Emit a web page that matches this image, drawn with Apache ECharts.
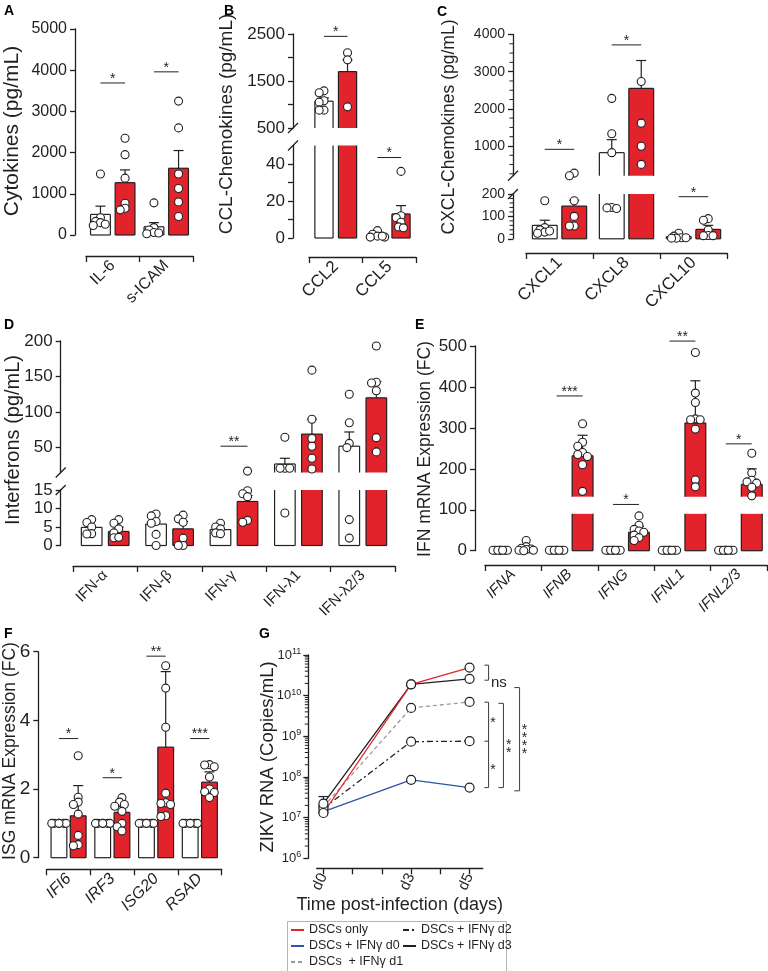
<!DOCTYPE html>
<html>
<head>
<meta charset="utf-8">
<script src="https://cdn.jsdelivr.net/npm/echarts@6/dist/echarts.min.js"></script>
<style>html,body{margin:0;background:#fff}#main{width:768px;height:971px}</style>
</head>
<body>
<div id="main"></div>
<script>
// ---- A: cytokines
const catA = ['IL-6', 's-ICAM'];
const mockA = [500, 200], mockTopA = [700, 300];
const mockPtsA = [[1480, 420, 330, 300, 260, 230], [780, 180, 120, 60, 30, 50]];
const zikvA = [1270, 1620], zikvTopA = [1580, 2050];
const zikvPtsA = [[2350, 1950, 1380, 770, 650, 610], [3250, 2600, 1480, 1130, 800, 450]];
const sigA = [[3690, '*'], [3960, '*']];
const ticksA = [0, 1000, 2000, 3000, 4000, 5000];

// ---- B: CCL chemokines (broken axis)
const catB = ['CCL2', 'CCL5'];
const mockB = [1070, 1.5], mockTopB = [1140, 2.2];
const mockPtsB = [[1290, 1250, 1080, 1050, 880, 880], [4, 2, 1, 0.5, 0.5, 1]];
const zikvB = [1700, 13], zikvTopB = [1950, 17.5];
const zikvPtsB = [[2100, 1950, 950], [36, 12, 11, 8.5, 6, 5.5]];
const sigB = [[2450, '*'], [43.5, '*']];
const upTicksB = [500, 1000, 1500, 2000, 2500], upLabelsB = [500, 1500, 2500];
const lowTicksB = [0, 10, 20, 30, 40], lowLabelsB = [0, 20, 40];

// ---- C: CXCL chemokines (broken axis)
const catC = ['CXCL1', 'CXCL8', 'CXCL10'];
const mockC = [60, 820, 10], mockTopC = [83, 1170, 12];
const mockPtsC = [[170, 50, 40, 30, 25, 35], [2280, 1330, 820, 140, 135, 138], [25, 12, 5, 3, 3, 5]];
const zikvC = [146, 2550, 42], zikvTopC = [172, 3300, 60];
const zikvPtsC = [[270, 200, 170, 100, 57, 57], [2735, 1614, 992, 504], [90, 83, 39, 15, 14, 14]];
const sigC = [[910, '*'], [3720, '*'], [188, '*']];
const upTicksC = [1000, 2000, 3000, 4000];
const upMinorC = [250, 500, 750, 1250, 1500, 1750, 2250, 2500, 2750, 3250, 3500, 3750];
const lowTicksC = [0, 100, 200];
const lowMinorC = [20, 40, 60, 80, 120, 140, 160, 180];

// ---- D: interferons (broken axis)
const catD = ['IFN-α', 'IFN-β', 'IFN-γ', 'IFN-λ1', 'IFN-λ2/3'];
const mockD = [4.9, 5.8, 4.3, 27, 52], mockTopD = [4.9, 5.8, 4.3, 35, 72];
const mockPtsD = [[7, 6.2, 5, 3.2, 3.1], [8.5, 8, 6.5, 6, 3, 0], [6, 5, 4.5, 3.4, 3.2],
  [64.6, 21, 21, 21, 8.8], [125, 85, 56, 50, 7, 2]];
const zikvD = [3.8, 4.5, 11.9, 69, 120], zikvTopD = [5, 6.5, 13.5, 90, 143];
const zikvPtsD = [[7, 6, 4.5, 3.4, 2.1, 2.2], [8.2, 7.2, 6.3, 2, 0, 0], [17, 14.8, 14, 13.2, 6.8, 6.3],
  [159, 90, 63, 52, 35, 20], [193, 142, 141, 130, 64, 44]];
const sigD = [null, null, [52, '**'], null, null];
const upTicksD = [50, 100, 150, 200], lowTicksD = [0, 5, 10, 15];

// ---- E: IFN mRNA
const catE = ['IFNA', 'IFNB', 'IFNG', 'IFNL1', 'IFNL2/3'];
const mockE = [1, 1, 1, 1, 1], mockTopE = [1, 1, 1, 1, 1];
const mockPtsE = [[1, 1, 1, 1, 1, 1, 1, 1], [1, 1, 1, 1, 1, 1, 1, 1], [1, 1, 1, 1, 1, 1, 1, 1],
  [1, 1, 1, 1, 1, 1, 1, 1], [1, 1, 1, 1, 1, 1, 1, 1]];
const zikvE = [5, 232, 45, 312, 162], zikvTopE = [5, 282, 60, 415, 200];
const zikvPtsE = [[25, 10, 6, 4, 3, 1, 1, 0], [310, 265, 255, 240, 235, 230, 210, 145],
  [85, 62, 52, 48, 45, 38, 32, 25], [484, 385, 362, 322, 320, 320, 297, 173, 156],
  [238, 190, 172, 168, 165, 155, 134]];
const sigE = [null, [378, '***'], [113, '*'], [512, '**'], [261, '*']];
const ticksE = [0, 100, 200, 300, 400, 500];

// ---- F: ISG mRNA
const catF = ['IFI6', 'IRF3', 'ISG20', 'RSAD'];
const mockF = [1, 1, 1, 1], mockTopF = [1, 1, 1, 1];
const mockPtsF = [[1, 1, 1, 1, 1, 1], [1, 1, 1, 1, 1, 1], [1, 1, 1, 1, 1, 1], [1, 1, 1, 1, 1, 1]];
const zikvF = [1.22, 1.32, 3.22, 2.2], zikvTopF = [2.1, 1.5, 5.42, 2.5];
const zikvPtsF = [[2.97, 1.76, 1.62, 1.55, 1.27, 0.65, 0.38, 0.35], [1.75, 1.62, 1.55, 1.5, 1.35, 1.0, 0.9, 0.78],
  [5.59, 4.94, 3.8, 1.88, 1.6, 1.58, 1.55, 1.22, 1.2], [2.71, 2.65, 2.7, 2.35, 2.0, 1.92, 1.9, 1.75]];
const sigF = [[3.47, '*'], [2.33, '*'], [5.87, '**'], [3.47, '***']];
const ticksF = [0, 2, 4, 6];

// ---- G: ZIKV RNA over time
const gDays = [0, 3, 5];
const gOnly = [1.3e7, 1.9e10, 4.9e10];
const gD0 = [1.4e7, 8.5e7, 5.5e7];
const gD1 = [1.85e7, 5e9, 7e9];
const gD2 = [1.7e7, 7.4e8, 7.6e8];
const gD3 = [2.2e7, 1.9e10, 2.6e10];
const gD3Top = 3.3e7;
const gTickDays = [0, 1, 2, 3, 4, 5];
const gBrX = [5.65, 5.65, 6.16, 6.71];
const gBrX0 = [5.51, 5.51, 5.99, 6.53];
const gBrY = [[10.75, 10.38], [9.84, 8.88, 7.74], [9.81, 7.74], [10.2, 7.66]];
const gSigText = ['ns', '*', '*', '*\n*', '*\n*\n*\n*'];
const gSigX = [5.73, 5.8, 5.8, 6.34, 6.88];
const gSigY = [10.31, 9.4, 8.25, 8.76, 8.93];

const INK = '#231f20';
const RED = '#e3232b';
const BLUE = '#2d55a5';
const FONT = 'Liberation Sans, Arial, Helvetica, sans-serif';

var grids = [], xAxes = [], yAxes = [], series = [], graphics = [];
var AXLINE = {color: INK, width: 1.3};
var plain = function (v) { return String(v); };

function segOf(segs, v) {
  for (var i = 0; i < segs.length; i++) if (v >= segs[i].min) return i;
  return segs.length - 1;
}
function toPx(s, v) { return s.bottom - (v - s.min) / (s.max - s.min) * (s.bottom - s.top); }

// small unlabeled ticks on the left of an axis line
function minorTickMarks(axisX, ys) {
  ys.forEach(function (y) {
    graphics.push({type: 'line', shape: {x1: axisX - 3.5, y1: y, x2: axisX, y2: y},
      style: {stroke: INK, lineWidth: 1}});
  });
}

// simple beeswarm so points don't sit exactly on top of each other
function swarm(vals, segs, unitPx, diam) {
  var placed = [], offs = [];
  var order = vals.map(function (v, i) { return i; }).sort(function (a, b) { return vals[b] - vals[a]; });
  order.forEach(function (i) {
    var y = toPx(segs[segOf(segs, vals[i])], vals[i]);
    var best = 0, bestCost = Infinity;
    for (var k = 0; k < 7; k++) {
      var dx = Math.ceil(k / 2) * (k % 2 ? -1 : 1) * diam * 0.3;
      var cost = Math.abs(dx) * 0.01;
      placed.forEach(function (q) {
        var d = Math.hypot(q[0] - dx, q[1] - y);
        if (d < diam * 0.6) cost += diam * 0.6 - d;
      });
      if (cost < bestCost) { bestCost = cost; best = dx; }
    }
    placed.push([best, y]);
    offs[i] = best / unitPx;
  });
  return offs;
}

function makeBar(s, L) {
  return function (params, api) {
    var x = api.value(0), v = api.value(1), kind = api.value(2);
    var w = L.bw / 2;
    var pieces = L.gap && v > L.gap[1] ? [[0, L.gap[0]], [L.gap[1], v]] : [[0, v]];
    var kids = [];
    var st = {stroke: INK, lineWidth: 1.2};
    pieces.forEach(function (pc) {
      var lo = Math.max(pc[0], s.min), hi = Math.min(pc[1], s.max);
      if (hi <= lo) return;
      var a = api.coord([x - w, lo]), b = api.coord([x + w, hi]);
      kids.push({type: 'rect', shape: {x: a[0], y: b[1], width: b[0] - a[0], height: a[1] - b[1]},
        style: {fill: kind ? RED : '#fff'}});
      kids.push({type: 'line', shape: {x1: a[0], y1: a[1], x2: a[0], y2: b[1]}, style: st});
      kids.push({type: 'line', shape: {x1: b[0], y1: a[1], x2: b[0], y2: b[1]}, style: st});
      if (hi === v) kids.push({type: 'line', shape: {x1: a[0], y1: b[1], x2: b[0], y2: b[1]}, style: st});
      if (lo === 0) kids.push({type: 'line', shape: {x1: a[0], y1: a[1], x2: b[0], y2: a[1]}, style: st});
    });
    return {type: 'group', children: kids};
  };
}

function makeErr(s) {
  return function (params, api) {
    var x = api.value(0), m = api.value(1), t = api.value(3);
    var kids = [];
    var lo = Math.max(m, s.min), hi = Math.min(t, s.max);
    if (t > m && hi > lo) {
      var a = api.coord([x, lo]), b = api.coord([x, hi]);
      var st = {stroke: INK, lineWidth: 1.2};
      kids.push({type: 'line', shape: {x1: a[0], y1: a[1], x2: b[0], y2: b[1]}, style: st});
      if (t <= s.max) kids.push({type: 'line', shape: {x1: b[0] - 5, y1: b[1], x2: b[0] + 5, y2: b[1]}, style: st});
    }
    return {type: 'group', children: kids};
  };
}

function makeSig(labels, off) {
  return function (params, api) {
    var c = api.value(0), y = api.value(1);
    var a = api.coord([c - off, y]), b = api.coord([c + off, y]);
    return {type: 'group', children: [
      {type: 'line', shape: {x1: a[0], y1: a[1], x2: b[0], y2: b[1]}, style: {stroke: INK, lineWidth: 1}},
      {type: 'text', x: (a[0] + b[0]) / 2, y: a[1] + 3,
        style: {text: labels[params.dataIndex], textAlign: 'center', textVerticalAlign: 'bottom',
          fontSize: 14, fontFamily: FONT, fill: INK}}
    ]};
  };
}

function addPanel(L, D) {
  var n = D.cats.length, unit = (L.right - L.left) / n, diam = 8;
  var mockOff = D.mockPts.map(function (p) { return swarm(p, L.segs, unit, diam); });
  var zikvOff = D.zikvPts.map(function (p) { return swarm(p, L.segs, unit, diam); });
  L.segs.forEach(function (s, si) {
    var gi = grids.length, xi = xAxes.length, yi = yAxes.length;
    var last = si === L.segs.length - 1;
    grids.push({left: L.left, top: s.top, width: L.right - L.left, height: s.bottom - s.top});
    xAxes.push({gridIndex: gi, type: 'value', min: 0, max: n, show: false});
    if (last) xAxes.push({
      gridIndex: gi, type: 'category', data: D.cats, position: 'bottom', offset: L.catY - s.bottom,
      boundaryGap: true,
      axisLine: {show: true, onZero: false, lineStyle: AXLINE},
      axisTick: {show: true, length: 6, lineStyle: AXLINE},
      axisLabel: {rotate: 45, interval: 0, fontSize: L.catFont, color: INK, margin: 7,
        fontStyle: L.italic ? 'italic' : 'normal'}
    });
    yAxes.push({
      gridIndex: gi, type: 'value', position: 'left', min: s.min, max: s.max, offset: L.left - L.axisX,
      axisLine: {show: true, onZero: false, lineStyle: AXLINE},
      axisTick: {show: true, length: 5, customValues: s.ticks, lineStyle: AXLINE},
      axisLabel: {customValues: s.labels || s.ticks, formatter: plain, fontSize: L.tickFont, color: INK, margin: 8},
      splitLine: {show: false}
    });
    if (s.minor) minorTickMarks(L.axisX, s.minor.map(function (v) { return toPx(s, v); }));
    var barData = [];
    D.cats.forEach(function (c, i) {
      barData.push([i + 0.5 - L.off, D.mock[i], 0, D.mockTop[i]]);
      barData.push([i + 0.5 + L.off, D.zikv[i], 1, D.zikvTop[i]]);
    });
    series.push({type: 'custom', xAxisIndex: xi, yAxisIndex: yi, z: 2, silent: true,
      data: barData, renderItem: makeBar(s, L)});
    series.push({type: 'custom', xAxisIndex: xi, yAxisIndex: yi, z: 3, silent: true,
      data: barData, renderItem: makeErr(s)});
    var pts = [];
    D.mockPts.forEach(function (arr, i) {
      arr.forEach(function (v, j) { if (segOf(L.segs, v) === si) pts.push([i + 0.5 - L.off + mockOff[i][j], v]); });
    });
    D.zikvPts.forEach(function (arr, i) {
      arr.forEach(function (v, j) { if (segOf(L.segs, v) === si) pts.push([i + 0.5 + L.off + zikvOff[i][j], v]); });
    });
    series.push({type: 'scatter', xAxisIndex: xi, yAxisIndex: yi, z: 5, clip: false, silent: true,
      symbol: 'circle', symbolSize: diam,
      itemStyle: {color: '#fff', opacity: 1, borderColor: INK, borderWidth: 1.1}, data: pts});
    var sigPos = [], sigTxt = [];
    D.sig.forEach(function (sg, i) {
      if (sg && segOf(L.segs, sg[0]) === si) { sigPos.push([i + 0.5, sg[0]]); sigTxt.push(sg[1]); }
    });
    if (sigPos.length) series.push({type: 'custom', xAxisIndex: xi, yAxisIndex: yi, z: 6, silent: true,
      data: sigPos, renderItem: makeSig(sigTxt, L.off)});
  });
  // axis break marks
  for (var k = 0; k + 1 < L.segs.length; k++) {
    [L.segs[k].bottom, L.segs[k + 1].top].forEach(function (y) {
      graphics.push({type: 'line', shape: {x1: L.axisX - 5, y1: y + 5, x2: L.axisX + 5, y2: y - 5},
        style: {stroke: INK, lineWidth: 1.3}});
    });
  }
}

addPanel({left: 86, right: 193, axisX: 75, catY: 256, off: 0.23, bw: 0.37, tickFont: 16, catFont: 16,
  segs: [{top: 29, bottom: 235, min: 0, max: 5000, ticks: ticksA}]},
  {cats: catA, mock: mockA, mockTop: mockTopA, mockPts: mockPtsA, zikv: zikvA, zikvTop: zikvTopA, zikvPts: zikvPtsA, sig: sigA});

addPanel({left: 309, right: 416, axisX: 293, catY: 257, off: 0.22, bw: 0.34, tickFont: 17, catFont: 17,
  segs: [{top: 34, bottom: 128, min: 500, max: 2500, ticks: upTicksB, labels: upLabelsB},
         {top: 145.5, bottom: 238, min: 0, max: 50, ticks: lowTicksB, labels: lowLabelsB}]},
  {cats: catB, mock: mockB, mockTop: mockTopB, mockPts: mockPtsB, zikv: zikvB, zikvTop: zikvTopB, zikvPts: zikvPtsB, sig: sigB});

addPanel({left: 526, right: 727, axisX: 513, catY: 253, off: 0.22, bw: 0.37, tickFont: 14, catFont: 17,
  segs: [{top: 34.5, bottom: 175.7, min: 200, max: 4000, ticks: upTicksC, minor: upMinorC},
         {top: 194, bottom: 238.8, min: 0, max: 200, ticks: lowTicksC, minor: lowMinorC}]},
  {cats: catC, mock: mockC, mockTop: mockTopC, mockPts: mockPtsC, zikv: zikvC, zikvTop: zikvTopC, zikvPts: zikvPtsC, sig: sigC});

addPanel({left: 73, right: 395, axisX: 60.7, catY: 566, off: 0.21, bw: 0.32, tickFont: 17, catFont: 15,
  segs: [{top: 341, bottom: 472.5, min: 15, max: 200, ticks: upTicksD},
         {top: 490, bottom: 545.5, min: 0, max: 15, ticks: lowTicksD}]},
  {cats: catD, mock: mockD, mockTop: mockTopD, mockPts: mockPtsD, zikv: zikvD, zikvTop: zikvTopD, zikvPts: zikvPtsD, sig: sigD});

addPanel({left: 485, right: 767, axisX: 475, catY: 565, off: 0.23, bw: 0.37, tickFont: 17, catFont: 15,
  italic: true, gap: [90, 132],
  segs: [{top: 346, bottom: 550.7, min: 0, max: 500, ticks: ticksE}]},
  {cats: catE, mock: mockE, mockTop: mockTopE, mockPts: mockPtsE, zikv: zikvE, zikvTop: zikvTopE, zikvPts: zikvPtsE, sig: sigE});

addPanel({left: 46.7, right: 221.7, axisX: 38.3, catY: 869.3, off: 0.22, bw: 0.36, tickFont: 19, catFont: 16,
  italic: true,
  segs: [{top: 651.7, bottom: 857.7, min: 0, max: 6, ticks: ticksF}]},
  {cats: catF, mock: mockF, mockTop: mockTopF, mockPts: mockPtsF, zikv: zikvF, zikvTop: zikvTopF, zikvPts: zikvPtsF, sig: sigF});

// ---- G panel: log-scale time course
(function () {
  var gi = grids.length, xi = xAxes.length, yi = yAxes.length;
  var G = {left: 316.7, top: 655, width: 166, height: 203.3, axisX: 308.3};
  grids.push({left: G.left, top: G.top, width: G.width, height: G.height});
  xAxes.push({
    gridIndex: gi, type: 'value', min: -0.23, max: 5.45, offset: 10,
    axisLine: {show: true, onZero: false, lineStyle: AXLINE},
    axisTick: {show: true, length: 6, customValues: gTickDays, lineStyle: AXLINE},
    axisLabel: {customValues: gDays, formatter: function (v) { return 'd' + v; }, rotate: 65,
      fontSize: 15, color: INK, margin: 6},
    splitLine: {show: false},
    name: 'Time post-infection (days)', nameLocation: 'middle', nameGap: 26,
    nameTextStyle: {fontSize: 18, color: INK}
  });
  yAxes.push({
    gridIndex: gi, type: 'log', position: 'left', logBase: 10, min: 1e6, max: 1e11, offset: G.left - G.axisX,
    axisLine: {show: true, onZero: false, lineStyle: AXLINE},
    axisTick: {show: true, length: 5, lineStyle: AXLINE},
    axisLabel: {color: INK, fontSize: 13, margin: 7, lineHeight: 16,
      formatter: function (v) { return '10{e|' + Math.round(Math.log10(v)) + '}'; },
      rich: {e: {fontSize: 9, lineHeight: 10, verticalAlign: 'top', color: INK}}},
    splitLine: {show: false}
  });
  // log minor ticks (2..9 within each decade)
  var minorY = [];
  for (var k = 6; k < 11; k++) for (var m = 2; m < 10; m++) {
    minorY.push(G.top + G.height - (Math.log10(m) + k - 6) / 5 * G.height);
  }
  minorTickMarks(G.axisX, minorY);
  var lines = [
    ['DSCs + IFNγ d0', gD0, BLUE, 'solid'],
    ['DSCs  + IFNγ d1', gD1, '#9a9a9a', [4, 3]],
    ['DSCs + IFNγ d2', gD2, INK, [6, 3, 2, 3]],
    ['DSCs + IFNγ d3', gD3, INK, 'solid'],
    ['DSCs only', gOnly, RED, 'solid']
  ];
  lines.forEach(function (l) {
    series.push({
      name: l[0], type: 'line', xAxisIndex: xi, yAxisIndex: yi, z: 4, clip: false,
      data: gDays.map(function (d, i) { return [d, l[1][i]]; }),
      symbol: 'circle', symbolSize: 9,
      itemStyle: {color: '#fff', borderColor: INK, borderWidth: 1.2},
      lineStyle: {color: l[2], width: 1.3, type: l[3]}
    });
  });
  series.push({type: 'custom', xAxisIndex: xi, yAxisIndex: yi, z: 3, silent: true,
    data: [[gDays[0], gD3[0], gD3Top]],
    renderItem: function (params, api) {
      var a = api.coord([api.value(0), api.value(1)]), b = api.coord([api.value(0), api.value(2)]);
      var st = {stroke: INK, lineWidth: 1.2};
      return {type: 'group', children: [
        {type: 'line', shape: {x1: a[0], y1: a[1], x2: b[0], y2: b[1]}, style: st},
        {type: 'line', shape: {x1: b[0] - 5, y1: b[1], x2: b[0] + 5, y2: b[1]}, style: st}
      ]};
    }});
  // significance brackets
  series.push({type: 'custom', xAxisIndex: xi, yAxisIndex: yi, z: 3, silent: true,
    data: gBrX.map(function (x, i) { return [x, Math.pow(10, gBrY[i][0])]; }),
    renderItem: function (params, api) {
      var i = params.dataIndex, ys = gBrY[i];
      var st = {stroke: '#4a4a4a', lineWidth: 1.1};
      var top = api.coord([gBrX[i], Math.pow(10, ys[0])]);
      var bot = api.coord([gBrX[i], Math.pow(10, ys[ys.length - 1])]);
      var kids = [{type: 'line', shape: {x1: top[0], y1: top[1], x2: bot[0], y2: bot[1]}, style: st}];
      ys.forEach(function (y) {
        var a = api.coord([gBrX0[i], Math.pow(10, y)]), b = api.coord([gBrX[i], Math.pow(10, y)]);
        kids.push({type: 'line', shape: {x1: a[0], y1: a[1], x2: b[0], y2: b[1]}, style: st});
      });
      return {type: 'group', children: kids};
    }});
  series.push({type: 'custom', xAxisIndex: xi, yAxisIndex: yi, z: 3, silent: true,
    data: gSigX.map(function (x, i) { return [x, Math.pow(10, gSigY[i])]; }),
    renderItem: function (params, api) {
      var i = params.dataIndex, p = api.coord([api.value(0), api.value(1)]);
      var ns = gSigText[i] === 'ns';
      return {type: 'text', x: p[0], y: ns ? p[1] : p[1] + 3,
        style: {text: gSigText[i], textAlign: ns ? 'left' : 'center', textVerticalAlign: 'middle',
          fontSize: ns ? 15 : 14, lineHeight: 8, fontFamily: FONT, fill: INK}};
    }});
})();

// axis titles and panel letters
const yNames = [
  ['Cytokines (pg/mL)', 12, 131, 21], ['CCL-Chemokines (pg/mL)', 227, 124, 19],
  ['CXCL-Chemokines (pg/mL)', 449, 127, 17.5], ['Interferons (pg/mL)', 13.5, 440, 20],
  ['IFN mRNA Expression (FC)', 425, 449, 17.5], ['ISG mRNA Expression (FC)', 10, 751, 17.5],
  ['ZIKV RNA (Copies/mL)', 268, 757, 18.5]
];
yNames.forEach(function (t) {
  graphics.push({type: 'text', x: t[1], y: t[2], rotation: Math.PI / 2,
    style: {text: t[0], textAlign: 'center', textVerticalAlign: 'middle', fontSize: t[3], fontFamily: FONT, fill: INK}});
});
const letters = [['A', 4, 4], ['B', 224, 4], ['C', 437, 5], ['D', 4, 318], ['E', 415, 318], ['F', 4, 627], ['G', 259, 627]];
letters.forEach(function (t) {
  graphics.push({type: 'text', x: t[1], y: t[2],
    style: {text: t[0], fontSize: 14, fontWeight: 'bold', fontFamily: FONT, fill: '#000'}});
});
graphics.push({type: 'rect', shape: {x: 287.5, y: 921.5, width: 219, height: 60},
  style: {fill: 'none', stroke: '#b5b5b5', lineWidth: 1}});

var legendBase = {orient: 'vertical', itemGap: 2, itemWidth: 13, itemHeight: 10, padding: 0,
  selectedMode: false, itemStyle: {opacity: 0}, textStyle: {fontSize: 12.5, color: INK, lineHeight: 14}};

var chart = echarts.init(document.getElementById('main'));
chart.setOption({
  animation: false,
  textStyle: {fontFamily: FONT},
  grid: grids,
  xAxis: xAxes,
  yAxis: yAxes,
  legend: [
    Object.assign({left: 290, top: 923, data: ['DSCs only', 'DSCs + IFNγ d0', 'DSCs  + IFNγ d1']}, legendBase),
    Object.assign({left: 402, top: 923, data: ['DSCs + IFNγ d2', 'DSCs + IFNγ d3']}, legendBase)
  ],
  graphic: graphics,
  series: series
});
</script>
</body>
</html>
